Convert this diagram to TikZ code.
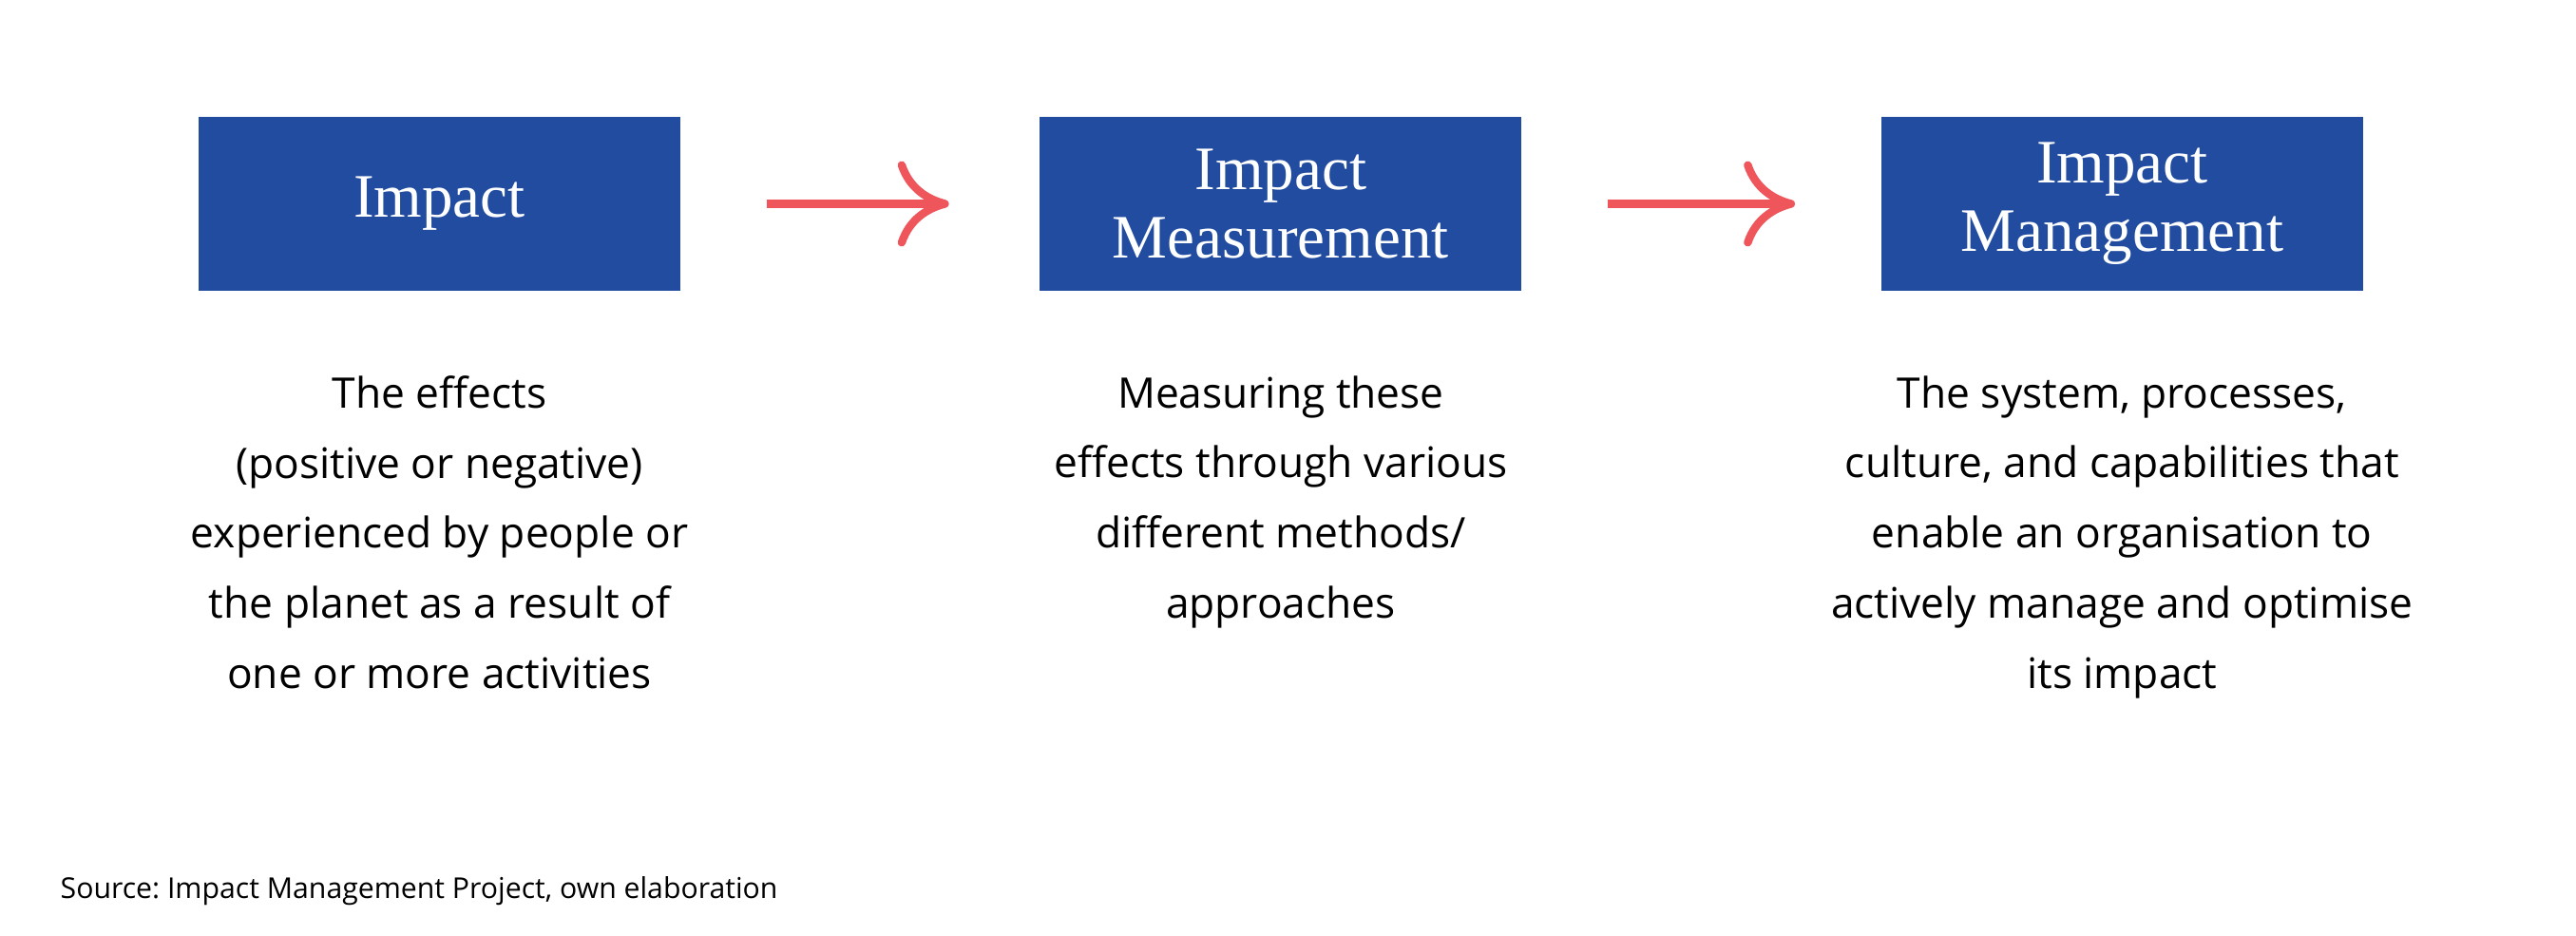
\documentclass[tikz,border=0pt]{standalone}
\usepackage{fontspec}
\setmainfont{Open Sans}
\newfontfamily\boxfont{Liberation Serif}
\usetikzlibrary{positioning}
\usetikzlibrary{arrows.meta}
\frenchspacing

\definecolor{impactblue}{RGB}{33,76,160}
\definecolor{arrowred}{RGB}{239,86,92}

\tikzset{
    stage/.style={fill=impactblue, text=white, minimum width=5.07cm, minimum height=1.83cm,
        inner sep=0pt, align=center, font=\boxfont\fontsize{18.5}{20.5}\selectfont},
    descr/.style={align=center, inner sep=0pt, font=\fontsize{12.6}{21}\selectfont},
    flow/.style={draw=arrowred, line width=2.4pt, -{Computer Modern Rightarrow[length=5.4mm,width=9mm]}},
}

\begin{document}
\begin{tikzpicture}[node distance=3.77cm]
        \useasboundingbox (0,0) rectangle (27.11,-9.85);

        \node[stage] (impact) at (4.625,-2.145) {Impact};
        \node[stage, right=of impact] (measure) {Impact\\Measurement};
        \node[stage, right=of measure] (manage) {Impact\\Management};

        \node[descr, below=0.88cm of impact] (impacttxt) {The effects\\(positive or negative)\\experienced by people or\\the planet as a result of\\one or more activities};
        \node[descr, below=0.88cm of measure] (measuretxt) {Measuring these\\effects through various\\different methods/\\approaches};
        \node[descr, below=0.88cm of manage] (managetxt) {The system, processes,\\culture, and capabilities that\\enable an organisation to\\actively manage and optimise\\its impact};

        \draw[flow] ([xshift=0.9cm]impact.east) -- ([xshift=-0.95cm]measure.west);
        \draw[flow] ([xshift=0.9cm]measure.east) -- ([xshift=-0.9cm]manage.west);

        \node[anchor=base west, inner sep=0pt, font=\fontsize{8.6}{10}\selectfont] (source) at (0.63,-9.45) {Source: Impact Management Project, own elaboration};
    \end{tikzpicture}
\end{document}
